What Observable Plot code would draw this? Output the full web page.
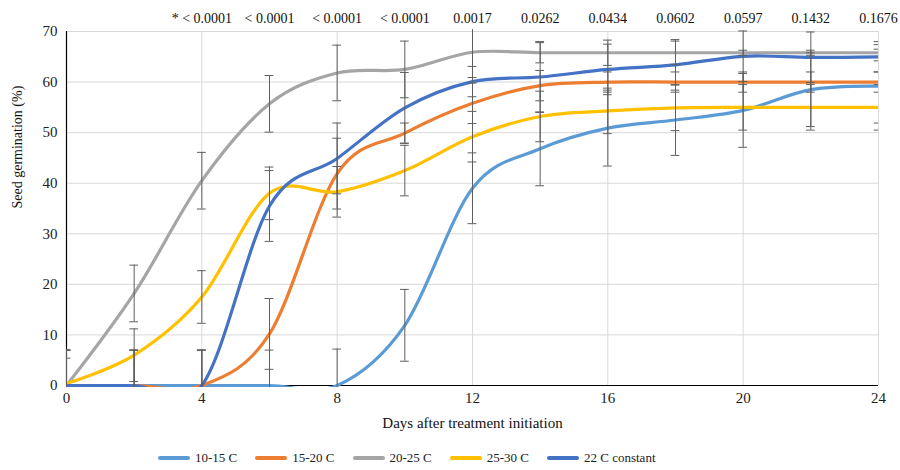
<!DOCTYPE html>
<html>
<head>
<meta charset="utf-8">
<script src="https://cdn.jsdelivr.net/npm/d3@7"></script>
<script src="https://cdn.jsdelivr.net/npm/@observablehq/plot@0.6"></script>
<style>
  body { margin: 0; background: #fff; font-family: "Liberation Serif", "Tinos", "Times New Roman", "DejaVu Serif", serif; }
  #legend { display: flex; justify-content: flex-start; align-items: center; height: 25px; padding-left: 158px; font-size: 13px; color: #222; }
  .item { display: flex; align-items: center; margin-right: 18px; }
  .sw { width: 32px; height: 4px; border-radius: 2px; margin-right: 5px; }
  svg text { font-family: "Liberation Serif", "Tinos", "Times New Roman", "DejaVu Serif", serif; }
</style>
</head>
<body>
<div id="chart"></div>
<div id="legend"></div>
<script>
const days = [0, 2, 4, 6, 8, 10, 12, 14, 16, 18, 20, 22, 24];
const seriesNames = ["10-15 C", "15-20 C", "20-25 C", "25-30 C", "22 C constant"];
const seriesColors = ["#5B9BD5", "#ED7D31", "#A5A5A5", "#FFC000", "#4472C4"];
const g1015 = [0, 0, 0, 0, 0, 11.9, 39, 46.8, 50.9, 52.5, 54.4, 58.5, 59.2];
const g1520 = [0, 0, 0, 10.2, 41.9, 49.9, 55.8, 59.3, 60, 60, 60, 60, 60];
const g2025 = [0, 18.2, 40.5, 55.7, 61.8, 62.5, 65.9, 65.8, 65.8, 65.8, 65.8, 65.8, 65.8];
const g2530 = [0.4, 6.0, 17.5, 38.0, 38.3, 42.5, 49.2, 53.2, 54.3, 54.9, 55, 55, 55];
const g22c  = [0, 0, 0, 35.5, 44.9, 54.9, 60.1, 61, 62.5, 63.4, 65.1, 64.9, 65];
const e1015 = [7, 7, 7, 7, 7.2, 7.1, 7, 7.3, 7.5, 7, 7.3, 7.3, 7.3];
const e1520 = [7, 7, 7, 7, 7, 2, 4, 3, 2, 2, 2, 2, 2];
const e2025 = [7, 5.6, 5.6, 5.6, 5.5, 5.6, 5, 2, 2.5, 2.3, 0.5, 0.5, 1.6];
const e2530 = [5, 5.2, 5.2, 5.2, 5, 5, 5, 5, 4.5, 4.5, 4.5, 4.5, 4.5];
const e22c  = [7, 7, 7, 7, 7, 7, 3, 7, 5, 5, 5, 5, 3];
const pDays = [4, 6, 8, 10, 12, 14, 16, 18, 20, 22, 24];
const pLabels = ["* < 0.0001", "< 0.0001", "< 0.0001", "< 0.0001", "0.0017", "0.0262", "0.0434", "0.0602", "0.0597", "0.1432", "0.1676"];
const xTicks = [0, 4, 8, 12, 16, 20, 24];
const yTicks = [0, 10, 20, 30, 40, 50, 60, 70];

const values = [g1015, g1520, g2025, g2530, g22c];
const errors = [e1015, e1520, e2025, e2530, e22c];

const errRows = [];
values.forEach((vals, s) => vals.forEach((v, i) => {
  errRows.push({day: days[i], lo: v - errors[s][i], hi: v + errors[s][i]});
}));

const font = "'Liberation Serif', 'Tinos', 'Times New Roman', 'DejaVu Serif', serif";
const marks = [
  Plot.ruleX(xTicks, {stroke: "#d9d9d9", strokeWidth: 1}),
  Plot.ruleY(yTicks, {stroke: "#d9d9d9", strokeWidth: 1}),
  Plot.ruleY([0], {stroke: "#000", strokeWidth: 1.2}),
  Plot.ruleX([0], {stroke: "#000", strokeWidth: 1.2}),
];
values.forEach((vals, s) => {
  marks.push(Plot.line(days, {
    x: d => d, y: (d, i) => vals[i],
    stroke: seriesColors[s], strokeWidth: 3.2, curve: "cardinal", clip: true
  }));
});
const cap = 0.13;
marks.push(
  Plot.ruleX(errRows, {x: "day", y1: "lo", y2: "hi", stroke: "#5f5f5f", strokeWidth: 1, clip: true}),
  Plot.ruleY(errRows, {y: "lo", x1: d => d.day - cap, x2: d => d.day + cap, stroke: "#5f5f5f", strokeWidth: 1, clip: true}),
  Plot.ruleY(errRows, {y: "hi", x1: d => d.day - cap, x2: d => d.day + cap, stroke: "#5f5f5f", strokeWidth: 1, clip: true}),
  Plot.text(pLabels, {x: (d, i) => pDays[i], frameAnchor: "top", dy: -18, text: d => d, fontSize: 14, fill: "#111"}),
  Plot.text(["Days after treatment initiation"], {frameAnchor: "bottom", dy: 42, fontSize: 15, fill: "#111"}),
  Plot.text(["Seed germination (%)"], {frameAnchor: "left", dx: -49, rotate: -90, fontSize: 14, fill: "#111"})
);

const svg = Plot.plot({
  width: 900,
  height: 445,
  marginLeft: 66,
  marginRight: 22,
  marginTop: 31,
  marginBottom: 60,
  style: {fontFamily: font, fontSize: "15px", color: "#222", background: "#fff"},
  x: {domain: [0, 24], ticks: xTicks, tickSize: 0, tickPadding: 7, label: null},
  y: {domain: [0, 70], ticks: yTicks, tickSize: 0, tickPadding: 9, label: null},
  marks
});
svg.querySelectorAll("clipPath rect").forEach(r => {
  const y = +r.getAttribute("y"), h = +r.getAttribute("height");
  r.setAttribute("y", y - 2);
  r.setAttribute("height", h + 4);
});
document.getElementById("chart").appendChild(svg);

const legend = document.getElementById("legend");
seriesNames.forEach((n, i) => {
  const it = document.createElement("div");
  it.className = "item";
  it.innerHTML = `<span class="sw" style="background:${seriesColors[i]}"></span><span>${n}</span>`;
  legend.appendChild(it);
});
</script>
</body>
</html>
